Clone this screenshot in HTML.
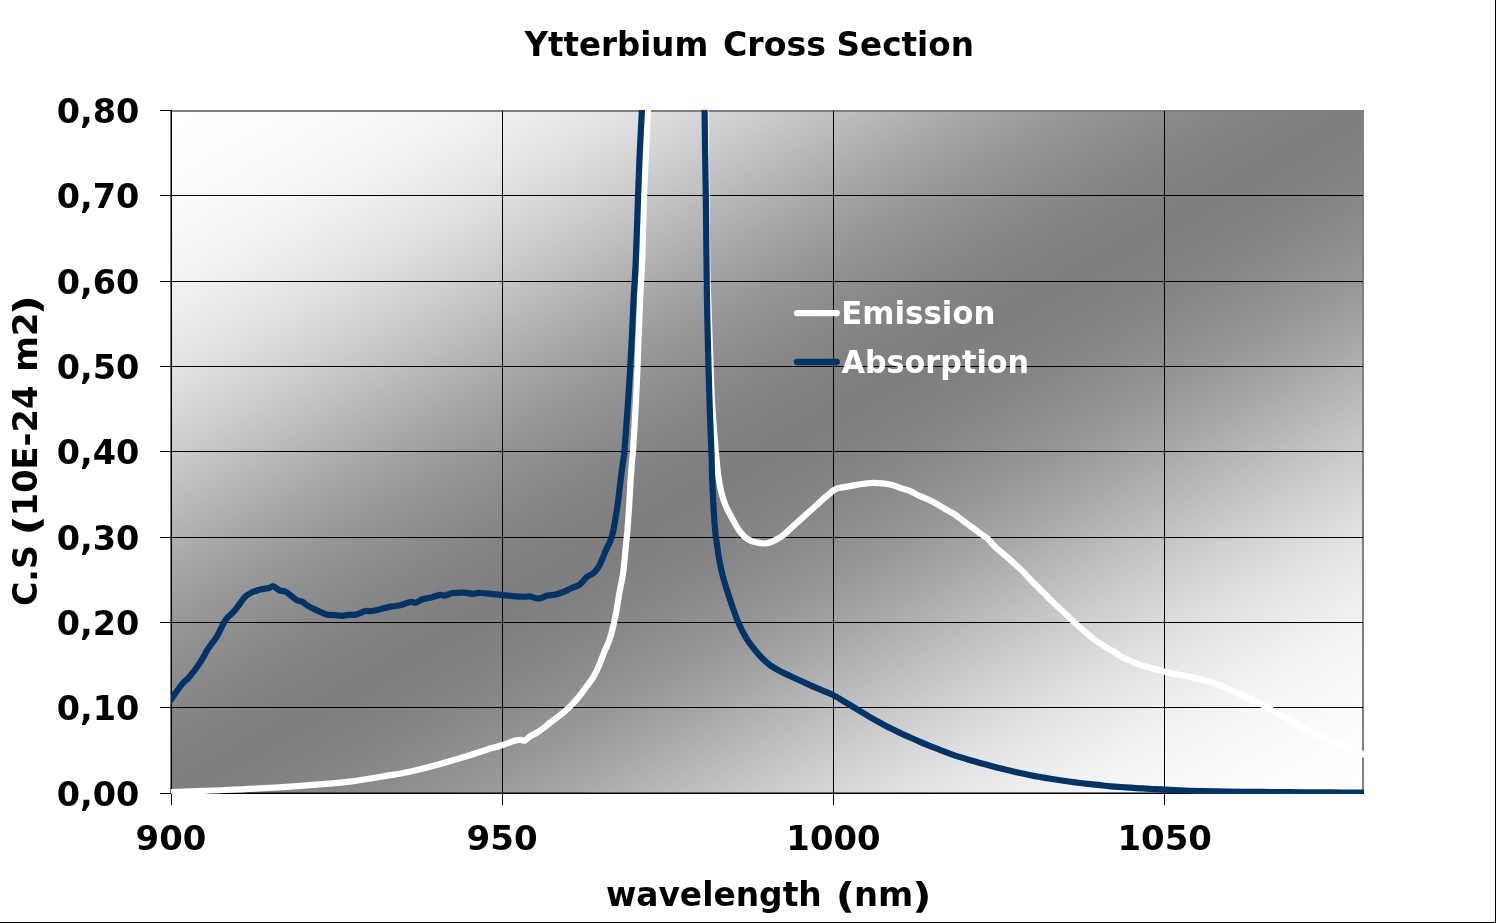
<!DOCTYPE html>
<html lang="en">
<head>
<meta charset="utf-8">
<title>Ytterbium Cross Section</title>
<style>
html,body{margin:0;padding:0;background:#fff;overflow:hidden;}
body{width:1496px;height:923px;position:relative;}
#plot{position:absolute;left:172px;top:112px;width:1190px;height:681px;background:linear-gradient(to bottom right,#ffffff 0.00%,#fefefe 2.08%,#fdfdfd 4.17%,#fbfbfb 6.25%,#f9f9f9 8.33%,#f6f6f6 10.42%,#f3f3f3 12.50%,#eeeeee 14.58%,#e9e9e9 16.67%,#e3e3e3 18.75%,#dcdcdc 20.83%,#d4d4d4 22.92%,#cccccc 25.00%,#c3c3c3 27.08%,#bababa 29.17%,#b1b1b1 31.25%,#a8a8a8 33.33%,#a0a0a0 35.42%,#989898 37.50%,#929292 39.58%,#8c8c8c 41.67%,#878787 43.75%,#838383 45.83%,#808080 47.92%,#7e7e7e 50.00%,#808080 52.08%,#838383 54.17%,#878787 56.25%,#8c8c8c 58.33%,#929292 60.42%,#989898 62.50%,#a0a0a0 64.58%,#a8a8a8 66.67%,#b1b1b1 68.75%,#bababa 70.83%,#c3c3c3 72.92%,#cccccc 75.00%,#d4d4d4 77.08%,#dcdcdc 79.17%,#e3e3e3 81.25%,#e9e9e9 83.33%,#eeeeee 85.42%,#f3f3f3 87.50%,#f6f6f6 89.58%,#f9f9f9 91.67%,#fbfbfb 93.75%,#fdfdfd 95.83%,#fefefe 97.92%,#ffffff 100.00%);}
#bb{position:absolute;left:0;top:921.75px;width:1496px;height:1.25px;background:#000;}
#br{position:absolute;left:1494.95px;top:0;width:1.05px;height:923px;background:#000;}
svg{position:absolute;left:0;top:0;}
text{font-family:"DejaVu Sans","Liberation Sans",sans-serif;font-weight:bold;fill:#000;}
#legend text{fill:#fff;}
</style>
</head>
<body>
<div id="plot"></div>
<svg width="1496" height="923" viewBox="0 0 1496 923">
<defs><clipPath id="pc"><rect x="171" y="110" width="1193" height="684"/></clipPath></defs>

<path d="M172 111H1364M1363 110V793.5" stroke="#808080" stroke-width="2.0" fill="none"/>
<path d="M172 195.5H1363M172 281.5H1363M172 366.5H1363M172 451.5H1363M172 537.5H1363M172 622.5H1363M172 707.5H1363M502.5 111V793M833.5 111V793M1164.5 111V793" stroke="#000" stroke-width="1.0" fill="none"/>
<path d="M171.25 110V794" stroke="#000" stroke-width="1.55" fill="none"/>
<path d="M160 793.5H172" stroke="#000" stroke-width="1" fill="none"/>
<path d="M171 793.3H1364" stroke="#000" stroke-width="1.4" fill="none"/>
<path d="M160 110.5H172M160 195.5H172M160 281.5H172M160 366.5H172M160 451.5H172M160 537.5H172M160 622.5H172M160 707.5H172M171.5 793V805M502.5 793V805M833.5 793V805M1164.5 793V805" stroke="#000" stroke-width="1.0" fill="none"/>
<g clip-path="url(#pc)" fill="none" stroke-width="6.2" stroke-linejoin="round" stroke-linecap="butt">
<path stroke="#fff" d="M165.00 792.60 C166.05 792.52 163.47 792.45 171.30 792.10 C179.13 791.75 196.55 791.15 212.00 790.50 C227.45 789.85 246.67 789.18 264.00 788.20 C281.33 787.22 301.67 785.70 316.00 784.60 C330.33 783.50 341.45 782.53 350.00 781.60 C358.55 780.67 361.52 779.92 367.30 779.00 C373.08 778.08 378.92 777.07 384.70 776.10 C390.48 775.13 396.23 774.30 402.00 773.20 C407.77 772.10 413.52 770.87 419.30 769.50 C425.08 768.13 430.92 766.58 436.70 765.00 C442.48 763.42 448.23 761.72 454.00 760.00 C459.77 758.28 466.10 756.33 471.30 754.70 C476.50 753.07 480.00 751.82 485.20 750.20 C490.40 748.58 498.30 746.33 502.50 745.00 C506.70 743.67 508.08 742.98 510.40 742.20 C512.72 741.42 514.68 740.68 516.40 740.30 C518.12 739.92 519.27 739.87 520.70 739.90 C522.13 739.93 523.42 741.12 525.00 740.50 C526.58 739.88 528.17 737.53 530.20 736.20 C532.23 734.87 534.88 733.93 537.20 732.50 C539.52 731.07 541.97 729.23 544.10 727.60 C546.23 725.97 547.82 724.42 550.00 722.70 C552.18 720.98 554.55 719.37 557.20 717.30 C559.85 715.23 563.30 712.57 565.90 710.30 C568.50 708.03 570.50 706.12 572.80 703.70 C575.10 701.28 577.38 698.70 579.70 695.80 C582.02 692.90 584.38 689.50 586.70 686.30 C589.02 683.10 591.58 679.98 593.60 676.60 C595.62 673.22 597.07 669.97 598.80 666.00 C600.53 662.03 602.27 657.05 604.00 652.80 C605.73 648.55 607.75 644.62 609.20 640.50 C610.65 636.38 611.68 632.02 612.70 628.10 C613.72 624.18 614.43 621.33 615.30 617.00 C616.17 612.67 617.13 606.60 617.90 602.10 C618.67 597.60 619.02 594.90 619.90 590.00 C620.78 585.10 622.22 579.92 623.20 572.70 C624.18 565.48 625.08 553.93 625.80 546.70 C626.52 539.47 626.92 536.53 627.50 529.30 C628.08 522.07 628.78 511.38 629.30 503.30 C629.82 495.22 630.13 488.02 630.60 480.80 C631.07 473.58 631.70 464.87 632.10 460.00 C632.50 455.13 632.38 460.93 633.00 451.60 C633.62 442.27 635.05 418.20 635.80 404.00 C636.55 389.80 636.78 383.73 637.50 366.40 C638.22 349.07 639.32 317.73 640.10 300.00 C640.88 282.27 641.53 277.45 642.20 260.00 C642.87 242.55 643.15 220.23 644.10 195.30 C645.05 170.37 647.18 126.28 647.90 110.40 C648.62 94.52 648.32 101.73 648.40 100.00 M705.30 100.00 C705.33 101.73 705.18 83.73 705.50 110.40 C705.82 137.07 706.74 228.40 707.20 260.00 C707.66 291.60 707.67 281.78 708.25 300.00 C708.83 318.22 710.06 351.97 710.70 369.30 C711.34 386.63 711.43 392.43 712.10 404.00 C712.77 415.57 713.95 429.37 714.70 438.70 C715.45 448.03 715.97 453.57 716.60 460.00 C717.23 466.43 717.75 472.10 718.50 477.30 C719.25 482.50 719.95 486.57 721.10 491.20 C722.25 495.83 723.87 501.13 725.40 505.10 C726.93 509.07 728.62 511.77 730.30 515.00 C731.98 518.23 733.85 521.68 735.50 524.50 C737.15 527.32 738.23 529.52 740.20 531.90 C742.17 534.28 744.67 537.07 747.30 538.80 C749.93 540.53 752.97 541.52 756.00 542.30 C759.03 543.08 762.90 543.57 765.50 543.50 C768.10 543.43 768.85 543.12 771.60 541.90 C774.35 540.68 778.82 538.45 782.00 536.20 C785.18 533.95 787.82 531.00 790.70 528.40 C793.58 525.80 796.42 523.20 799.30 520.60 C802.18 518.00 805.10 515.40 808.00 512.80 C810.90 510.20 813.82 507.60 816.70 505.00 C819.58 502.40 822.48 499.65 825.30 497.20 C828.12 494.75 831.28 491.83 833.60 490.30 C835.92 488.77 836.25 488.73 839.20 488.00 C842.15 487.27 847.55 486.57 851.30 485.90 C855.05 485.23 858.08 484.52 861.70 484.00 C865.32 483.48 869.53 482.92 873.00 482.80 C876.47 482.68 879.47 482.98 882.50 483.30 C885.53 483.62 888.32 483.97 891.20 484.70 C894.08 485.43 896.63 486.63 899.80 487.70 C902.97 488.77 907.02 489.78 910.20 491.10 C913.38 492.42 915.82 494.15 918.90 495.60 C921.98 497.05 925.63 498.35 928.70 499.80 C931.77 501.25 934.42 502.68 937.30 504.30 C940.18 505.92 943.10 507.82 946.00 509.50 C948.90 511.18 951.82 512.47 954.70 514.40 C957.58 516.33 960.42 518.97 963.30 521.10 C966.18 523.23 969.10 525.08 972.00 527.20 C974.90 529.32 978.10 531.87 980.70 533.80 C983.30 535.73 985.00 536.43 987.60 538.80 C990.20 541.17 993.12 545.02 996.30 548.00 C999.48 550.98 1003.53 553.95 1006.70 556.70 C1009.87 559.45 1012.70 562.13 1015.30 564.50 C1017.90 566.87 1019.98 568.60 1022.30 570.90 C1024.62 573.20 1026.60 575.57 1029.20 578.30 C1031.80 581.03 1034.95 584.32 1037.90 587.30 C1040.85 590.28 1044.23 593.55 1046.90 596.20 C1049.57 598.85 1051.58 600.97 1053.90 603.20 C1056.22 605.43 1058.50 607.47 1060.80 609.60 C1063.10 611.73 1065.45 613.90 1067.70 616.00 C1069.95 618.10 1071.98 620.07 1074.30 622.20 C1076.62 624.33 1079.23 626.68 1081.60 628.80 C1083.97 630.92 1086.20 632.98 1088.50 634.90 C1090.80 636.82 1093.08 638.62 1095.40 640.30 C1097.72 641.98 1100.08 643.52 1102.40 645.00 C1104.72 646.48 1107.00 647.83 1109.30 649.20 C1111.60 650.57 1114.08 651.87 1116.20 653.20 C1118.32 654.53 1119.58 655.90 1122.00 657.20 C1124.42 658.50 1127.82 659.77 1130.70 661.00 C1133.58 662.23 1136.42 663.58 1139.30 664.60 C1142.18 665.62 1145.10 666.25 1148.00 667.10 C1150.90 667.95 1153.93 668.92 1156.70 669.70 C1159.47 670.48 1161.72 671.08 1164.60 671.80 C1167.48 672.52 1170.98 673.40 1174.00 674.00 C1177.02 674.60 1179.82 674.88 1182.70 675.40 C1185.58 675.92 1188.42 676.45 1191.30 677.10 C1194.18 677.75 1197.10 678.55 1200.00 679.30 C1202.90 680.05 1205.82 680.78 1208.70 681.60 C1211.58 682.42 1214.42 683.23 1217.30 684.20 C1220.18 685.18 1223.10 686.20 1226.00 687.45 C1228.90 688.70 1231.82 690.33 1234.70 691.70 C1237.58 693.07 1240.42 694.27 1243.30 695.65 C1246.18 697.02 1249.10 698.54 1252.00 699.95 C1254.90 701.36 1257.77 702.62 1260.70 704.10 C1263.63 705.58 1266.72 707.25 1269.60 708.85 C1272.48 710.45 1275.15 712.08 1278.00 713.70 C1280.85 715.33 1283.82 717.00 1286.70 718.60 C1289.58 720.20 1292.42 721.75 1295.30 723.30 C1298.18 724.85 1301.10 726.38 1304.00 727.90 C1306.90 729.42 1309.82 730.87 1312.70 732.40 C1315.58 733.93 1318.42 735.65 1321.30 737.10 C1324.18 738.55 1327.10 739.80 1330.00 741.10 C1332.90 742.40 1335.82 743.75 1338.70 744.90 C1341.58 746.05 1344.42 746.93 1347.30 748.00 C1350.18 749.07 1353.25 750.22 1356.00 751.30 C1358.75 752.38 1361.47 753.55 1363.80 754.50 C1366.13 755.45 1368.97 756.58 1370.00 757.00"/>
<path stroke="#003366" d="M169.00 702.20 C169.43 701.60 169.38 701.65 171.60 698.60 C173.82 695.55 179.35 687.50 182.30 683.90 C185.25 680.30 186.40 680.47 189.30 677.00 C192.20 673.53 196.53 667.87 199.70 663.10 C202.87 658.33 205.42 652.87 208.30 648.40 C211.18 643.93 214.10 641.07 217.00 636.30 C219.90 631.53 222.82 624.00 225.70 619.80 C228.58 615.60 231.13 614.85 234.30 611.10 C237.47 607.35 241.80 600.38 244.70 597.30 C247.60 594.22 249.10 593.90 251.70 592.60 C254.30 591.30 257.42 590.25 260.30 589.50 C263.18 588.75 266.83 588.63 269.00 588.10 C271.17 587.57 271.57 585.93 273.30 586.30 C275.03 586.67 277.23 589.33 279.40 590.30 C281.57 591.27 283.42 590.45 286.30 592.10 C289.18 593.75 294.10 598.62 296.70 600.20 C299.30 601.78 299.88 600.57 301.90 601.60 C303.92 602.63 306.20 604.90 308.80 606.40 C311.40 607.90 314.60 609.27 317.50 610.60 C320.40 611.93 323.32 613.65 326.20 614.40 C329.08 615.15 332.20 614.87 334.80 615.10 C337.40 615.33 339.48 615.85 341.80 615.80 C344.12 615.75 346.40 615.00 348.70 614.80 C351.00 614.60 352.82 615.22 355.60 614.60 C358.38 613.98 362.90 611.67 365.40 611.10 C367.90 610.53 368.00 611.55 370.60 611.20 C373.20 610.85 377.82 609.72 381.00 609.00 C384.18 608.28 386.53 607.52 389.70 606.90 C392.87 606.28 396.53 606.12 400.00 605.30 C403.47 604.48 407.88 602.43 410.50 602.00 C413.12 601.57 413.68 603.15 415.70 602.70 C417.72 602.25 420.00 600.18 422.60 599.30 C425.20 598.42 428.42 598.13 431.30 597.40 C434.18 596.67 437.60 595.22 439.90 594.90 C442.20 594.58 443.08 595.78 445.10 595.50 C447.12 595.22 448.82 593.67 452.00 593.20 C455.18 592.73 460.58 592.58 464.20 592.70 C467.82 592.82 471.10 593.87 473.70 593.90 C476.30 593.93 475.03 592.70 479.80 592.90 C484.57 593.10 495.37 594.47 502.30 595.10 C509.23 595.73 516.78 596.47 521.40 596.70 C526.02 596.93 527.40 596.22 530.00 596.50 C532.60 596.78 535.12 598.13 537.00 598.40 C538.88 598.67 539.57 598.57 541.30 598.10 C543.03 597.63 545.02 596.20 547.40 595.60 C549.78 595.00 552.78 595.15 555.60 594.50 C558.42 593.85 561.70 592.75 564.30 591.70 C566.90 590.65 568.60 589.42 571.20 588.20 C573.80 586.98 577.30 586.27 579.90 584.40 C582.50 582.53 584.63 578.82 586.80 577.00 C588.97 575.18 591.02 575.08 592.90 573.50 C594.78 571.92 596.52 569.95 598.10 567.50 C599.68 565.05 601.10 561.70 602.40 558.80 C603.70 555.90 604.60 552.98 605.90 550.10 C607.20 547.22 609.05 544.38 610.20 541.50 C611.35 538.62 611.93 536.57 612.80 532.80 C613.67 529.03 614.53 524.10 615.40 518.90 C616.27 513.70 617.22 507.37 618.00 501.60 C618.78 495.83 619.47 489.50 620.10 484.30 C620.73 479.10 621.27 474.45 621.80 470.40 C622.33 466.35 622.87 463.13 623.30 460.00 C623.73 456.87 623.88 457.47 624.40 451.60 C624.92 445.73 625.72 434.18 626.40 424.80 C627.08 415.42 627.85 405.03 628.50 395.30 C629.15 385.57 629.72 376.50 630.30 366.40 C630.88 356.30 631.46 345.77 632.00 334.70 C632.54 323.63 632.92 312.45 633.55 300.00 C634.18 287.55 635.04 277.45 635.80 260.00 C636.56 242.55 637.43 213.30 638.10 195.30 C638.77 177.30 639.17 166.15 639.80 152.00 C640.43 137.85 641.47 119.07 641.90 110.40 C642.33 101.73 642.32 101.73 642.40 100.00 M704.40 100.00 C704.43 101.73 704.48 101.73 704.60 110.40 C704.72 119.07 704.90 137.85 705.10 152.00 C705.30 166.15 705.57 177.30 705.80 195.30 C706.03 213.30 706.30 242.55 706.50 260.00 C706.70 277.45 706.77 286.12 707.00 300.00 C707.23 313.88 707.63 331.75 707.90 343.30 C708.17 354.85 708.32 359.18 708.60 369.30 C708.88 379.42 709.22 392.43 709.60 404.00 C709.98 415.57 710.55 429.37 710.90 438.70 C711.25 448.03 711.50 453.57 711.70 460.00 C711.90 466.43 711.83 470.08 712.10 477.30 C712.37 484.52 712.82 494.63 713.30 503.30 C713.78 511.97 714.42 522.65 715.00 529.30 C715.58 535.95 716.07 538.00 716.80 543.20 C717.53 548.40 718.40 555.02 719.40 560.50 C720.40 565.98 721.55 571.18 722.80 576.10 C724.05 581.02 725.35 585.08 726.90 590.00 C728.45 594.92 730.22 600.23 732.10 605.60 C733.98 610.97 735.88 616.85 738.20 622.20 C740.52 627.55 743.25 633.10 746.00 637.70 C748.75 642.30 751.82 646.20 754.70 649.80 C757.58 653.40 760.70 656.70 763.30 659.30 C765.90 661.90 767.40 663.37 770.30 665.40 C773.20 667.43 776.95 669.53 780.70 671.50 C784.45 673.47 788.47 675.18 792.80 677.20 C797.13 679.22 802.08 681.52 806.70 683.60 C811.32 685.68 816.03 687.77 820.50 689.70 C824.97 691.63 830.03 693.52 833.50 695.20 C836.97 696.88 838.55 698.17 841.30 699.80 C844.05 701.43 846.88 703.12 850.00 705.00 C853.12 706.88 856.67 709.08 860.00 711.10 C863.33 713.12 866.67 715.17 870.00 717.10 C873.33 719.03 876.65 720.87 880.00 722.70 C883.35 724.53 886.77 726.40 890.10 728.10 C893.43 729.80 896.65 731.33 900.00 732.90 C903.35 734.47 906.87 736.02 910.20 737.50 C913.53 738.98 916.67 740.37 920.00 741.80 C923.33 743.23 926.87 744.75 930.20 746.10 C933.53 747.45 936.65 748.62 940.00 749.90 C943.35 751.18 946.97 752.60 950.30 753.80 C953.63 755.00 956.67 756.03 960.00 757.10 C963.33 758.17 966.97 759.22 970.30 760.20 C973.63 761.18 976.65 762.07 980.00 763.00 C983.35 763.93 987.07 764.92 990.40 765.80 C993.73 766.68 996.67 767.47 1000.00 768.30 C1003.33 769.13 1007.07 770.02 1010.40 770.80 C1013.73 771.58 1016.65 772.27 1020.00 773.00 C1023.35 773.73 1027.17 774.53 1030.50 775.20 C1033.83 775.87 1036.67 776.40 1040.00 777.00 C1043.33 777.60 1047.17 778.25 1050.50 778.80 C1053.83 779.35 1056.65 779.80 1060.00 780.30 C1063.35 780.80 1067.27 781.35 1070.60 781.80 C1073.93 782.25 1076.67 782.60 1080.00 783.00 C1083.33 783.40 1087.27 783.83 1090.60 784.20 C1093.93 784.57 1096.65 784.85 1100.00 785.20 C1103.35 785.55 1107.37 786.00 1110.70 786.30 C1114.03 786.60 1116.67 786.77 1120.00 787.00 C1123.33 787.23 1127.37 787.48 1130.70 787.70 C1134.03 787.92 1136.78 788.12 1140.00 788.30 C1143.22 788.48 1145.83 788.57 1150.00 788.80 C1154.17 789.03 1159.33 789.42 1165.00 789.70 C1170.67 789.98 1178.17 790.28 1184.00 790.50 C1189.83 790.72 1193.00 790.83 1200.00 791.00 C1207.00 791.17 1217.17 791.36 1226.00 791.50 C1234.83 791.64 1244.00 791.75 1253.00 791.85 C1262.00 791.95 1272.17 792.03 1280.00 792.10 C1287.83 792.17 1291.67 792.19 1300.00 792.25 C1308.33 792.31 1319.37 792.38 1330.00 792.45 C1340.63 792.53 1357.13 792.65 1363.80 792.70 C1370.47 792.75 1368.97 792.74 1370.00 792.75"/>
</g>
<g id="legend">
<path d="M797.1 313.05H836.8" stroke="#fff" stroke-width="6.3" stroke-linecap="round"/>
<path d="M797.1 362.0H836.8" stroke="#003366" stroke-width="6.3" stroke-linecap="round"/>
<text><tspan x="841.17" y="323.7" font-size="31.2" textLength="154.42" lengthAdjust="spacingAndGlyphs">Emission</tspan></text>
<text><tspan x="841.50" y="372.8" font-size="31.2" textLength="187.61" lengthAdjust="spacingAndGlyphs">Absorption</tspan></text>
</g>
<g id="labels">
<text><tspan x="524.47" y="56.0" font-size="32.8" textLength="183.76" lengthAdjust="spacingAndGlyphs">Ytterbium</tspan> <tspan x="722.93" y="56.0" font-size="32.8" textLength="103.03" lengthAdjust="spacingAndGlyphs">Cross</tspan> <tspan x="836.50" y="56.0" font-size="32.8" textLength="137.4" lengthAdjust="spacingAndGlyphs">Section</tspan></text>
<text><tspan x="56.68" y="123.0" font-size="33" textLength="82.71" lengthAdjust="spacingAndGlyphs">0,80</tspan></text>
<text><tspan x="56.68" y="208.1" font-size="33" textLength="82.71" lengthAdjust="spacingAndGlyphs">0,70</tspan></text>
<text><tspan x="56.68" y="294.1" font-size="33" textLength="82.71" lengthAdjust="spacingAndGlyphs">0,60</tspan></text>
<text><tspan x="56.68" y="379.1" font-size="33" textLength="82.71" lengthAdjust="spacingAndGlyphs">0,50</tspan></text>
<text><tspan x="56.68" y="464.1" font-size="33" textLength="82.71" lengthAdjust="spacingAndGlyphs">0,40</tspan></text>
<text><tspan x="56.68" y="550.2" font-size="33" textLength="82.71" lengthAdjust="spacingAndGlyphs">0,30</tspan></text>
<text><tspan x="56.68" y="635.1" font-size="33" textLength="82.71" lengthAdjust="spacingAndGlyphs">0,20</tspan></text>
<text><tspan x="56.68" y="720.1" font-size="33" textLength="82.71" lengthAdjust="spacingAndGlyphs">0,10</tspan></text>
<text><tspan x="56.68" y="805.5" font-size="33" textLength="82.71" lengthAdjust="spacingAndGlyphs">0,00</tspan></text>
<text><tspan x="135.61" y="849.8" font-size="33" textLength="70.78" lengthAdjust="spacingAndGlyphs">900</tspan></text>
<text><tspan x="466.60" y="849.8" font-size="33" textLength="71.04" lengthAdjust="spacingAndGlyphs">950</tspan></text>
<text><tspan x="786.39" y="849.8" font-size="33" textLength="94.06" lengthAdjust="spacingAndGlyphs">1000</tspan></text>
<text><tspan x="1117.48" y="849.8" font-size="33" textLength="94.44" lengthAdjust="spacingAndGlyphs">1050</tspan></text>
<text><tspan x="605.90" y="905.6" font-size="33" textLength="215.88" lengthAdjust="spacingAndGlyphs">wavelength</tspan> <tspan x="835.72" y="907.6" font-size="35.4" textLength="19.27" lengthAdjust="spacingAndGlyphs">(</tspan><tspan x="854.07" y="905.6" font-size="33" textLength="59.28" lengthAdjust="spacingAndGlyphs">nm</tspan><tspan x="912.36" y="907.6" font-size="35.4" textLength="19.22" lengthAdjust="spacingAndGlyphs">)</tspan></text>
<text transform="translate(37.3 0) rotate(-90)"><tspan x="-605.97" y="0.0" font-size="33" textLength="60.73" lengthAdjust="spacingAndGlyphs">C.S</tspan> <tspan x="-535.45" y="2.0" font-size="35.4" textLength="20.2" lengthAdjust="spacingAndGlyphs">(</tspan><tspan x="-516.29" y="0.0" font-size="33" textLength="130.77" lengthAdjust="spacingAndGlyphs">10E-24</tspan> <tspan x="-371.84" y="0.0" font-size="33" textLength="59.55" lengthAdjust="spacingAndGlyphs">m2</tspan><tspan x="-315.34" y="2.0" font-size="35.4" textLength="20.32" lengthAdjust="spacingAndGlyphs">)</tspan></text>
</g>
</svg>
<div id="bb"></div><div id="br"></div>
</body>
</html>
